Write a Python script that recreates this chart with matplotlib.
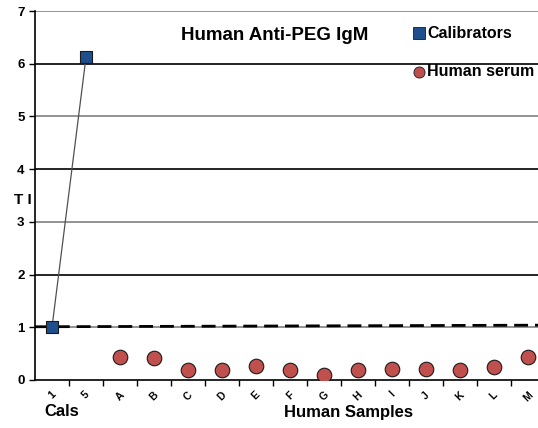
import matplotlib.pyplot as plt
import numpy as np

plt.rcParams['font.family'] = ['Liberation Sans', 'DejaVu Sans']

# categories along the x axis
cats = ['1', '5', 'A', 'B', 'C', 'D', 'E', 'F', 'G', 'H', 'I', 'J', 'K', 'L', 'M']
cal_labels = ['1', '5']
cal_values = [1.0, 6.12]
serum_labels = ['A', 'B', 'C', 'D', 'E', 'F', 'G', 'H', 'I', 'J', 'K', 'L', 'M']
serum_values = [0.44, 0.41, 0.19, 0.19, 0.26, 0.19, 0.10, 0.19, 0.21, 0.21, 0.19, 0.24, 0.44]
cutoff = [1.01, 1.04]

W, H = 538, 428
fig = plt.figure(figsize=(W / 100, H / 100), dpi=100)
ax = fig.add_axes([35 / W, 1 - 380 / H, (538 - 35) / W, (380 - 11) / H])

pos = {c: i for i, c in enumerate(cats)}
xc = [pos[c] for c in cal_labels]
xs = [pos[c] for c in serum_labels]

# horizontal grid lines
for y in range(1, 8):
    col = '#808080' if y % 2 == 1 else 'black'
    ax.axhline(y, color=col, lw=1.2, zorder=1)

# cutoff dashed line
ax.plot([-0.5, 14.3], cutoff, color='black', lw=2, ls=(0, (5, 2.5)), zorder=2)

ax.plot(xc, cal_values, color='#505050', lw=0.9, zorder=3)
ax.scatter(xc, cal_values, marker='s', s=64, color='#1F4E8C', edgecolor='#1a1a1a',
           lw=0.8, zorder=4, label='Calibrators')
ax.scatter(xs, serum_values, marker='o', s=110, color='#C0504D', edgecolor='#1a1a1a',
           lw=0.8, zorder=4, label='Human serum')

ax.set_xlim(-0.5, 14.3)
ax.set_ylim(0, 7)
for s in ['top', 'right']:
    ax.spines[s].set_visible(False)
ax.spines['left'].set_linewidth(1.2)
ax.spines['bottom'].set_linewidth(1.2)

ax.set_yticks(range(0, 8))
ax.set_yticklabels([str(v) for v in range(0, 8)], fontsize=9.5, fontweight='bold')
ax.tick_params(axis='y', length=4, width=1)

ax.set_xticks(np.arange(0.5, 14.5, 1))
ax.set_xticklabels([])
ax.tick_params(axis='x', length=4, width=1, direction='out')
ax.set_xticks(range(len(cats)), minor=True)
ax.set_xticklabels(cats, minor=True, rotation=45, fontsize=7.5, fontweight='bold')
ax.tick_params(axis='x', which='minor', length=0, pad=7)

fig.text(275 / W, 1 - 35 / H, 'Human Anti-PEG IgM', fontsize=13.5, fontweight='bold',
         ha='center', va='center')
fig.text(14 / W, 1 - 200 / H, 'T I', fontsize=11, fontweight='bold', ha='left', va='center')
fig.text(44 / W, 1 - 412 / H, 'Cals', fontsize=12, fontweight='bold', ha='left', va='center')
fig.text(284 / W, 1 - 412 / H, 'Human Samples', fontsize=12, fontweight='bold',
         ha='left', va='center')

# legend entries
fig.text(427 / W, 1 - 33 / H, 'Calibrators', fontsize=11.5, fontweight='bold', va='center')
fig.text(427 / W, 1 - 72 / H, 'Human serum', fontsize=11.5, fontweight='bold', va='center')
fig.lines.append(plt.Line2D([419 / W], [1 - 33 / H], marker='s', ms=8, color='#1F4E8C',
                            mec='#1a1a1a', mew=0.6, transform=fig.transFigure))
fig.lines.append(plt.Line2D([419 / W], [1 - 72 / H], marker='o', ms=8, color='#C0504D',
                            mec='#1a1a1a', mew=0.6, transform=fig.transFigure))

fig.savefig('out.png', dpi=100)
